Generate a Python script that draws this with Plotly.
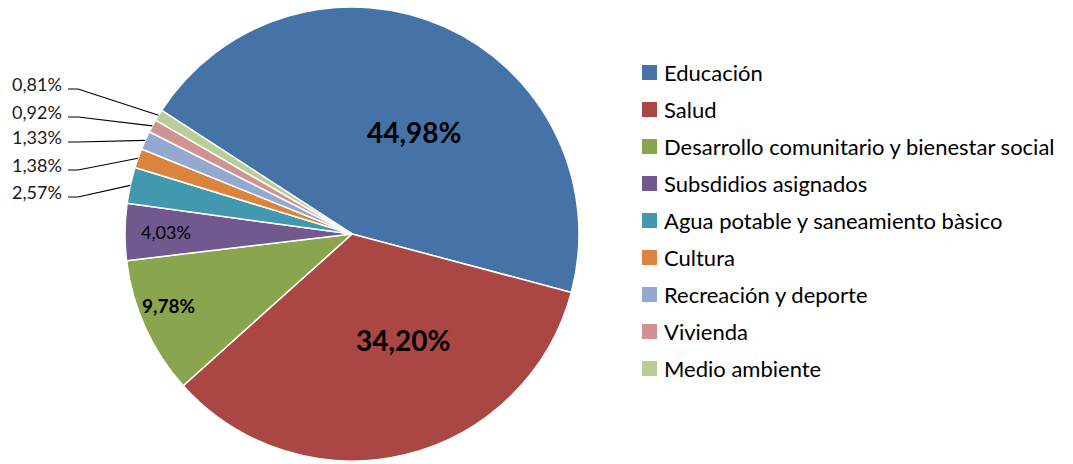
import math
import plotly.graph_objects as go

# ---------------- data ----------------
categories = ["Educación", "Salud", "Desarrollo comunitario y bienestar social",
              "Subsdidios asignados", "Agua potable y saneamiento bàsico", "Cultura",
              "Recreación y deporte", "Vivienda", "Medio ambiente"]
values = [44.98, 34.20, 9.78, 4.03, 2.57, 1.38, 1.33, 0.92, 0.81]
value_labels = ["44,98%", "34,20%", "9,78%", "4,03%", "2,57%", "1,38%", "1,33%", "0,92%", "0,81%"]
colors = ["#4572A7", "#AA4643", "#89A54E", "#71588F", "#4198AF",
          "#DB843D", "#93A9CF", "#D19392", "#B9CD96"]

# ---------------- layout constants (pixels) ----------------
W, H = 1073, 464
CX, CY, R = 352, 234, 227
ROT = -57.0
FONT = "Lato"

def px(x):
    return x / W

def py(y):
    return 1 - y / H

fig = go.Figure(go.Pie(
    labels=categories, values=values, sort=False, direction="clockwise",
    rotation=ROT, marker=dict(colors=colors, line=dict(color="white", width=1.5)),
    textinfo="none", showlegend=False, hoverinfo="label+percent",
    domain=dict(x=[px(CX - R), px(CX + R)], y=[py(CY + R), py(CY - R)]),
))

total = sum(values)
cum = 0.0
mids = []
for v in values:
    mids.append(ROT + 360.0 * (cum + v / 2) / total)
    cum += v

def polar(theta_deg, rr):
    t = math.radians(theta_deg)
    return CX + rr * math.sin(t), CY - rr * math.cos(t)

annotations = []
shapes = []

# inside labels: (radius fraction, angle offset, size, bold)
inside_style = {0: (0.526, 7.3, 28, True), 1: (0.518, -12.2, 28, True),
                2: (0.869, 3.2, 19, True), 3: (0.819, 0.0, 18, False)}
for i, (f, dt, size, bold) in inside_style.items():
    x, y = polar(mids[i] + dt, f * R)
    txt = f"<b>{value_labels[i]}</b>" if bold else value_labels[i]
    annotations.append(dict(x=px(x), y=py(y), xref="paper", yref="paper", text=txt,
                            showarrow=False, font=dict(family=FONT, size=size, color="black"),
                            xanchor="center", yanchor="middle"))

# outside labels with leader lines
outside_y = {8: 84, 7: 112, 6: 137, 5: 165, 4: 192}
for i, ly in outside_y.items():
    annotations.append(dict(x=px(64), y=py(ly), xref="paper", yref="paper", text=value_labels[i],
                            showarrow=False, font=dict(family=FONT, size=18, color="#1a1a1a"),
                            xanchor="right", yanchor="middle"))
    ex, ey = polar(mids[i], R)
    line_y = ly + 5
    path = f"M {px(68)} {py(line_y)} L {px(78)} {py(line_y)} L {px(ex)} {py(ey)}"
    shapes.append(dict(type="path", path=path, xref="paper", yref="paper",
                       line=dict(color="black", width=1.2)))

# legend
LEG_X0, LEG_Y0, LEG_DY, SQ = 642, 72.5, 37.0, 15
for i, (name, col) in enumerate(zip(categories, colors)):
    yc = LEG_Y0 + LEG_DY * i
    shapes.append(dict(type="rect", xref="paper", yref="paper",
                       x0=px(LEG_X0), x1=px(LEG_X0 + SQ), y0=py(yc + SQ / 2), y1=py(yc - SQ / 2),
                       fillcolor=col, line=dict(width=0)))
    annotations.append(dict(x=px(LEG_X0 + SQ + 5), y=py(yc), xref="paper", yref="paper",
                            text=name, showarrow=False, xanchor="left", yanchor="middle",
                            font=dict(family=FONT, size=22, color="black")))

fig.update_layout(width=W, height=H, margin=dict(l=0, r=0, t=0, b=0),
                  paper_bgcolor="white", plot_bgcolor="white",
                  annotations=annotations, shapes=shapes)
fig.write_html("out.html")
